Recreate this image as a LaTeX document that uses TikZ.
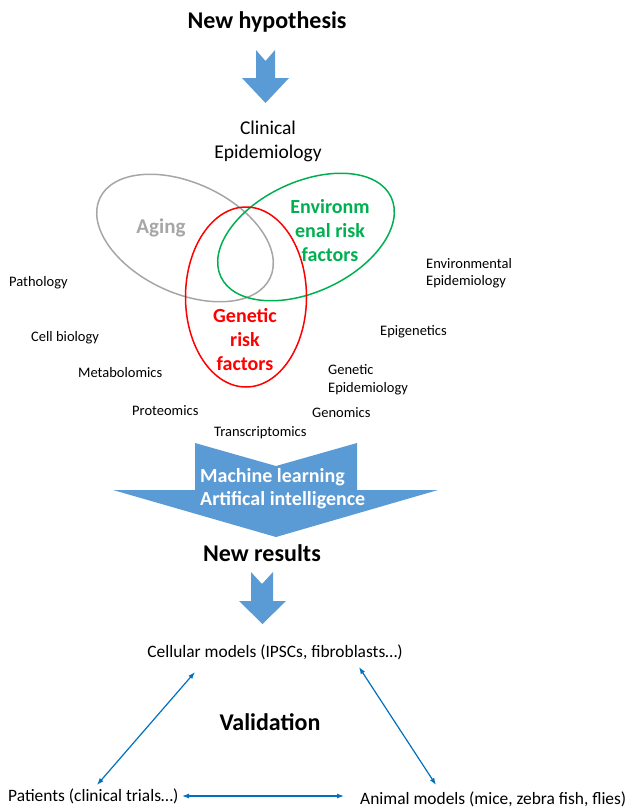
\documentclass[tikz,border=0pt]{standalone}
\usepackage{fontspec}
\setmainfont{Carlito}
\usetikzlibrary{shapes.geometric,arrows.meta}
\definecolor{blockblue}{RGB}{91,155,213}
\definecolor{linkblue}{RGB}{0,112,192}
\definecolor{envgreen}{RGB}{0,176,80}
\definecolor{aginggray}{RGB}{166,166,166}
\begin{document}
\begin{tikzpicture}[x=1pt,y=-1pt,
 title/.style={font=\fontsize{24}{28}\selectfont\bfseries, inner sep=0pt},
 field/.style={font=\fontsize{14.5}{17.5}\selectfont, inner sep=0pt, anchor=west, align=left},
 model/.style={font=\fontsize{17.4}{20}\selectfont, inner sep=0pt},
 blockarrow/.style={fill=blockblue},
 venn/.style={draw, ellipse, line width=1.5pt, inner sep=0pt},
 vennlabel/.style={font=\fontsize{20}{24}\selectfont\bfseries, inner sep=0pt, align=center},
 link/.style={draw=linkblue, line width=1.2pt, <->, >={Latex[length=7pt,width=5pt]}}
]
\useasboundingbox (0,0) rectangle (627,807);

% titles
\node[title] (hyp) at (267,22) {New hypothesis};
\fill[blockarrow] (256,50) -- (265.5,61) -- (275,50) -- (275,78) -- (289,78) -- (265.5,103) -- (242,78) -- (256,78) -- cycle;

\node[font=\fontsize{19.5}{24}\selectfont, inner sep=0pt, align=center] (clin) at (268,141) {Clinical\\Epidemiology};

% Venn
\node[venn, draw=aginggray, minimum width=188pt, minimum height=110pt, rotate=-25] (aging) at (185,238) {};
\node[venn, draw=envgreen, minimum width=188pt, minimum height=110pt, rotate=25] (env) at (306,237) {};
\node[venn, draw=red, minimum width=121pt, minimum height=180pt] (gen) at (246,297) {};

\node[vennlabel, text=aginggray, font=\fontsize{21}{24}\selectfont\bfseries] (agingl) at (161,228) {Aging};
\node[vennlabel, text=envgreen] (envl) at (330,231) {Environm\\enal risk\\factors};
\node[vennlabel, text=red] (genl) at (245,340) {Genetic\\risk\\factors};

% fields
\node[field] (path) at (9,283) {Pathology};
\node[field] (cellb) at (31,338) {Cell biology};
\node[field] (meta) at (78,373) {Metabolomics};
\node[field] (prot) at (132,411) {Proteomics};
\node[field] (trans) at (214,433) {Transcriptomics};
\node[field] (envepi) at (426,273) {Environmental\\Epidemiology};
\node[field] (epig) at (380,332) {Epigenetics};
\node[field] (genepi) at (328,379.5) {Genetic\\Epidemiology};
\node[field] (genom) at (312,413) {Genomics};

% big arrow
\fill[blockarrow] (195,443) -- (276,466) -- (357,443) -- (357,490) -- (438,490) -- (276,537) -- (113,490) -- (195,490) -- cycle;
\node[font=\fontsize{20}{23}\selectfont\bfseries, text=white, inner sep=0pt, anchor=west, align=left] (ml) at (200,488.5) {Machine learning\\Artifical intelligence};

\node[title] (res) at (262,553) {New results};
\fill[blockarrow] (251,572) -- (262,584) -- (273,572) -- (273,601) -- (286,601) -- (262.5,624) -- (239,601) -- (251,601) -- cycle;

% validation
\node[model] (cell) at (275,652) {Cellular models (IPSCs, fibroblasts…)};
\node[title] (valid) at (270,722) {Validation};
\node[model, anchor=west] (pat) at (8,796) {Patients (clinical trials…)};
\node[model, anchor=west] (anim) at (360,799) {Animal models (mice, zebra fish, flies)};

\coordinate (cl) at (195,672);
\coordinate (cr) at (359,667);
\coordinate (pt) at (97,785);
\coordinate (pr) at (182,796);
\coordinate (at) at (436,785);
\coordinate (al) at (344,796);
\draw[link] (cl) -- (pt);
\draw[link] (cr) -- (at);
\draw[link] (pr) -- (al);
\end{tikzpicture}
\end{document}
